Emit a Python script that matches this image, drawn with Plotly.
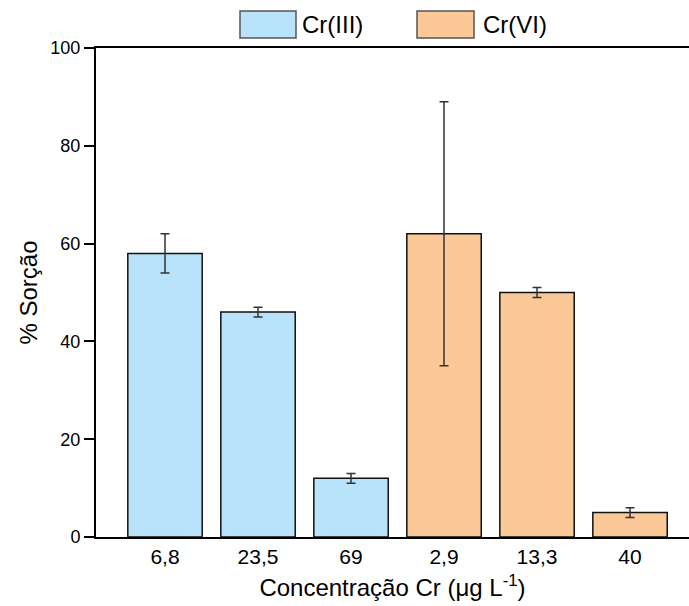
import plotly.graph_objects as go

# ---- data ----
cr3_labels = ["6,8", "23,5", "69"]
cr3_values = [58, 46, 12]
cr3_errors = [4, 1, 1]

cr6_labels = ["2,9", "13,3", "40"]
cr6_values = [62, 50, 5]
cr6_errors = [27, 1, 1]

series_names = ["Cr(III)", "Cr(VI)"]
y_ticks = [0, 20, 40, 60, 80, 100]

# ---- style ----
W, H = 689, 606
ML, MR, MT, MB = 96, 0, 48, 69
BLUE = "#B9E3FB"
ORANGE = "#FBC897"
FONT = "Arial, Liberation Sans, sans-serif"


def px_to_paper_x(px):
    return (px - ML) / (W - ML - MR)


def px_to_paper_y(py):
    return (H - MB - py) / (H - MT - MB)


fig = go.Figure()
fig.add_trace(go.Bar(
    x=cr3_labels, y=cr3_values, name=series_names[0], width=0.8,
    marker=dict(color=BLUE, line=dict(color="#111111", width=1.5)),
    error_y=dict(type="data", array=cr3_errors, color="#333333", thickness=1.5, width=4.5),
    showlegend=False,
))
fig.add_trace(go.Bar(
    x=cr6_labels, y=cr6_values, name=series_names[1], width=0.8,
    marker=dict(color=ORANGE, line=dict(color="#111111", width=1.5)),
    error_y=dict(type="data", array=cr6_errors, color="#333333", thickness=1.5, width=4.5),
    showlegend=False,
))

# custom legend (large swatches like the original)
legend_items = [
    (series_names[0], BLUE, 240, 296, 300),
    (series_names[1], ORANGE, 417, 474, 481),
]
for name, col, x0, x1, tx in legend_items:
    fig.add_shape(type="rect", xref="paper", yref="paper",
                  x0=px_to_paper_x(x0), x1=px_to_paper_x(x1),
                  y0=px_to_paper_y(38), y1=px_to_paper_y(11),
                  fillcolor=col, line=dict(color="#555555", width=1.5))
    fig.add_annotation(xref="paper", yref="paper", x=px_to_paper_x(tx), y=px_to_paper_y(24),
                       xanchor="left", yanchor="middle", showarrow=False,
                       text=name, font=dict(family=FONT, size=24, color="black"))

fig.update_layout(
    width=W, height=H,
    margin=dict(l=ML, r=MR, t=MT, b=MB),
    barmode="overlay",
    plot_bgcolor="white", paper_bgcolor="white",
    font=dict(family=FONT, color="black"),
)
fig.update_xaxes(
    type="category", categoryorder="array", categoryarray=cr3_labels + cr6_labels,
    range=[-0.742, 5.634],
    showline=True, linecolor="black", linewidth=2, mirror=True,
    ticks="", showgrid=False, zeroline=False,
    tickfont=dict(size=21, family=FONT),
    title=dict(text="Concentração Cr (μg L<sup>-1</sup>)", font=dict(size=24, family=FONT), standoff=12),
)
fig.update_yaxes(
    range=[0, 100], tickvals=y_ticks,
    showline=True, linecolor="black", linewidth=2, mirror=False,
    ticks="outside", ticklen=10, tickwidth=1.5, tickcolor="black",
    showgrid=False, zeroline=False,
    tickfont=dict(size=18, family=FONT),
    title=dict(text="% Sorção", font=dict(size=24, family=FONT), standoff=6),
)

fig.write_html(
    "out.html",
    config={"displayModeBar": False},
    post_script="document.body.style.margin='0px';document.body.style.overflow='hidden';",
)
